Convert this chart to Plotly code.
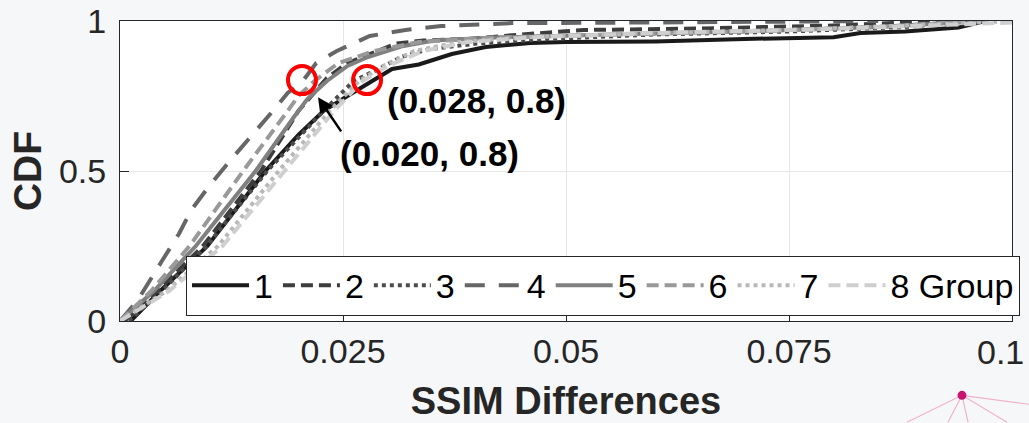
import plotly.graph_objects as go

# ---- data ----
names = ["1", "2", "3", "4", "5", "6", "7", "8 Group"]

s1_x = [0.0012, 0.0045, 0.0098, 0.0163, 0.0200, 0.0228, 0.0255, 0.0283, 0.0305, 0.0335, 0.0372, 0.0410, 0.0460, 0.0500, 0.0600, 0.0700, 0.0800, 0.0830, 0.0880, 0.0940, 0.0970]
s1_y = [0.0, 0.10, 0.25, 0.50, 0.62, 0.70, 0.75, 0.80, 0.84, 0.855, 0.89, 0.913, 0.927, 0.930, 0.932, 0.940, 0.946, 0.960, 0.965, 0.978, 1.0]

s2_x = [0.0005, 0.0042, 0.0093, 0.0158, 0.0200, 0.0218, 0.0232, 0.0255, 0.0280, 0.0310, 0.0340, 0.0390, 0.0450, 0.0520, 0.0650, 0.0800, 0.0920]
s2_y = [0.0, 0.10, 0.25, 0.50, 0.70, 0.76, 0.81, 0.86, 0.89, 0.925, 0.935, 0.940, 0.955, 0.970, 0.975, 0.985, 1.0]

s3_x = [0.0010, 0.0047, 0.0097, 0.0165, 0.0228, 0.0262, 0.0290, 0.0315, 0.0345, 0.0400, 0.0480, 0.0600, 0.0750, 0.0880, 0.0960]
s3_y = [0.0, 0.10, 0.25, 0.50, 0.70, 0.80, 0.84, 0.88, 0.905, 0.925, 0.940, 0.955, 0.965, 0.980, 1.0]

s4_x = [0.0, 0.0020, 0.0047, 0.0066, 0.0080, 0.0100, 0.0125, 0.0147, 0.0167, 0.0188, 0.0205, 0.0220, 0.0243, 0.0280, 0.0320, 0.0360, 0.0440, 0.0600, 0.0850]
s4_y = [0.0, 0.07, 0.20, 0.29, 0.37, 0.45, 0.54, 0.615, 0.685, 0.76, 0.80, 0.86, 0.90, 0.95, 0.97, 0.983, 0.993, 0.995, 1.0]

s5_x = [0.0, 0.0038, 0.0085, 0.0152, 0.0195, 0.0210, 0.0232, 0.0255, 0.0278, 0.0315, 0.0352, 0.0420, 0.0550, 0.0700, 0.0850, 0.0970]
s5_y = [0.0, 0.10, 0.25, 0.50, 0.68, 0.74, 0.80, 0.85, 0.88, 0.915, 0.935, 0.945, 0.955, 0.965, 0.980, 1.0]

s6_x = [0.0, 0.0035, 0.0078, 0.0138, 0.0188, 0.0200, 0.0218, 0.0245, 0.0285, 0.0335, 0.0420, 0.0550, 0.0700, 0.0850, 0.0960]
s6_y = [0.0, 0.10, 0.25, 0.50, 0.70, 0.75, 0.80, 0.86, 0.90, 0.93, 0.945, 0.955, 0.965, 0.980, 1.0]

s7_x = [0.0, 0.0052, 0.0110, 0.0178, 0.0235, 0.0268, 0.0295, 0.0330, 0.0380, 0.0450, 0.0600, 0.0750, 0.0880, 0.1000]
s7_y = [0.0, 0.10, 0.25, 0.50, 0.70, 0.80, 0.85, 0.90, 0.93, 0.945, 0.960, 0.970, 0.985, 1.0]

s8_x = [0.0, 0.0055, 0.0115, 0.0185, 0.0240, 0.0272, 0.0300, 0.0340, 0.0390, 0.0470, 0.0600, 0.0780, 0.0900, 0.1000]
s8_y = [0.0, 0.10, 0.25, 0.50, 0.70, 0.80, 0.85, 0.90, 0.93, 0.947, 0.960, 0.972, 0.985, 0.995]

series_x = [s1_x, s2_x, s3_x, s4_x, s5_x, s6_x, s7_x, s8_x]
series_y = [s1_y, s2_y, s3_y, s4_y, s5_y, s6_y, s7_y, s8_y]

# highlighted points (red circles) and annotation labels
circle_x = [0.0204, 0.0277]
circle_y = [0.803, 0.803]
label_texts = ["(0.028, 0.8)", "(0.020, 0.8)"]
label_x = [0.0400, 0.03475]
label_y = [0.736, 0.560]
arrow_head = (0.0222, 0.746)
arrow_tail = (0.0249, 0.627)

x_ticks = [0, 0.025, 0.05, 0.075, 0.1]
x_ticktext = ["0", "0.025", "0.05", "0.075", ""]
x_last_label = "0.1"   # drawn separately, right-aligned so it stays inside the picture
y_ticks = [0, 0.5, 1]
y_ticktext = ["0", "0.5", "1"]

# ---- styles ----
colors = ["#1a1a1a", "#3d3d3d", "#4d4d4d", "#666666", "#808080", "#999999", "#b8b8b8", "#cfcfcf"]
dashes = ["solid", "12px,6px", "4px,4px", "20px,14px", "solid", "12px,6px", "4px,4px", "12px,6px"]
FONT = "Arial, 'Liberation Sans', Helvetica, sans-serif"
TICKFONT = dict(family=FONT, size=34, color="#262626")

fig = go.Figure()
for name, xs, ys, c, d in zip(names, series_x, series_y, colors, dashes):
    fig.add_trace(go.Scatter(x=xs, y=ys, mode="lines", name=name,
                             line=dict(color=c, width=4, dash=d)))

fig.add_trace(go.Scatter(x=circle_x, y=circle_y, mode="markers", showlegend=False,
                         marker=dict(symbol="circle-open", size=28, color="#ff0000",
                                     line=dict(width=4, color="#ff0000"))))

for t, xx, yy in zip(label_texts, label_x, label_y):
    fig.add_annotation(x=xx, y=yy, text="<b>" + t + "</b>", showarrow=False,
                       font=dict(family=FONT, size=35, color="black"))

fig.add_annotation(x=arrow_head[0], y=arrow_head[1], ax=arrow_tail[0], ay=arrow_tail[1],
                   axref="x", ayref="y", xref="x", yref="y", text="", showarrow=True,
                   arrowhead=2, arrowsize=1.2, arrowwidth=2.5, arrowcolor="black")

# last x tick label
fig.add_annotation(x=x_ticks[-1], xref="x", y=0, yref="paper", text=x_last_label,
                   showarrow=False, xanchor="right", yanchor="middle",
                   xshift=14, yshift=-31, font=TICKFONT)

# slide decoration (bottom right network dot)
deco = dict(xref="paper", yref="paper", layer="above")
cx, cy = (962 - 120) / 892, (321.5 - 396) / 300.8
for ex, ey in [(907, 423), (948, 423), (968, 423), (1007, 423), (1029, 405)]:
    fig.add_shape(type="line", x0=cx, y0=cy, x1=(ex - 120) / 892, y1=(321.5 - ey) / 300.8,
                  line=dict(color="#eeb4cc", width=1.2), **deco)
fig.add_shape(type="circle", x0=cx - 4.5 / 892, x1=cx + 4.5 / 892, y0=cy - 4.5 / 300.8, y1=cy + 4.5 / 300.8,
              fillcolor="#c8166e", line=dict(width=0), **deco)

axis_common = dict(showline=True, linecolor="#262626", linewidth=1, mirror=True,
                   ticks="inside", ticklen=9, tickcolor="#262626", tickwidth=1,
                   showgrid=True, gridcolor="#e6e6e6", gridwidth=1, zeroline=False,
                   tickfont=TICKFONT)

fig.update_xaxes(range=[0, 0.1], tickvals=x_ticks, ticktext=x_ticktext,
                 title=dict(text="<b>SSIM Differences</b>", font=dict(family=FONT, size=38, color="#262626"), standoff=18),
                 **axis_common)
fig.update_yaxes(range=[0, 1], tickvals=y_ticks, ticktext=y_ticktext,
                 title=dict(text="<b>CDF</b>", font=dict(family=FONT, size=39, color="#262626"), standoff=5),
                 ticklabelstandoff=6, **axis_common)

fig.update_layout(
    width=1029, height=423,
    margin=dict(l=120, r=17, t=21, b=102, autoexpand=False),
    paper_bgcolor="#f6f7f9", plot_bgcolor="white",
    font=dict(family=FONT, color="black"),
    showlegend=True,
    legend=dict(orientation="h", x=0.074, xanchor="left", y=0.018, yanchor="bottom",
                bgcolor="white", bordercolor="#262626", borderwidth=1,
                font=dict(family=FONT, size=34, color="black"),
                itemwidth=57, traceorder="normal", tracegroupgap=0),
)

fig.write_html("out.html")
